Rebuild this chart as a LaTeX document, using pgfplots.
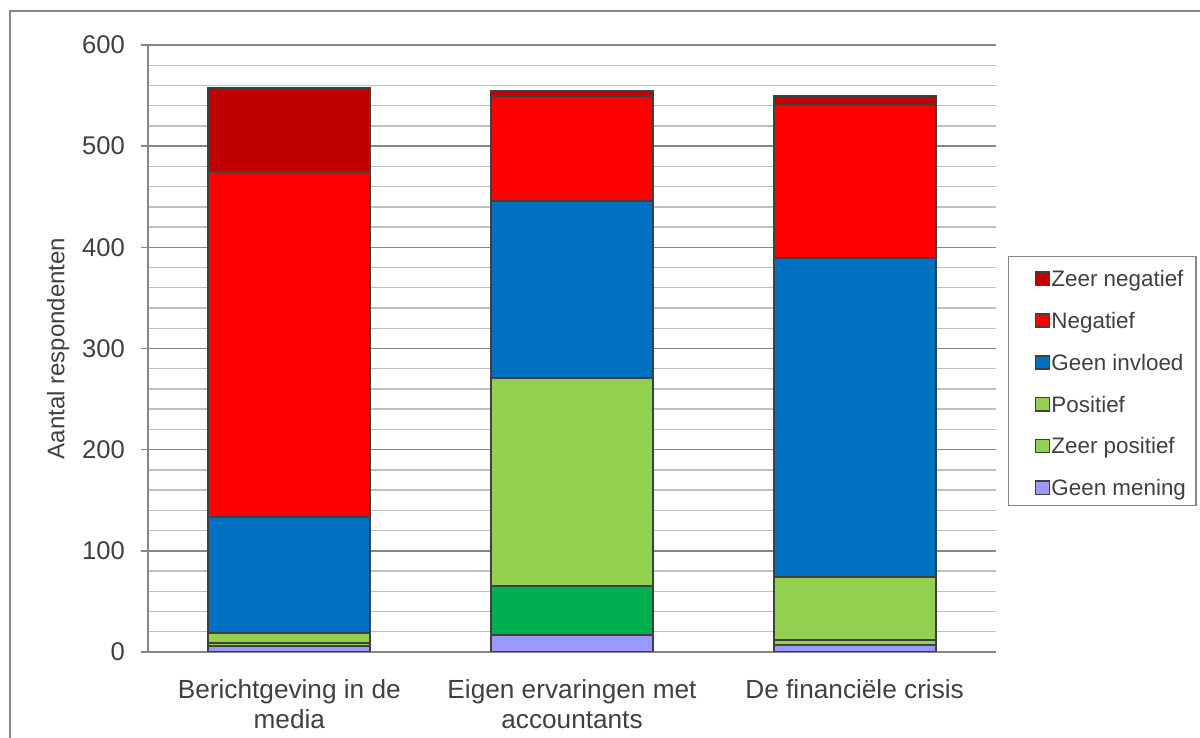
\documentclass[border=0pt]{standalone}
\usepackage{fontspec}
\setmainfont{Liberation Sans}
\usepackage{pgfplots}
\usepackage{pgfplotstable}
\pgfplotsset{compat=1.18}
\definecolor{zneg}{HTML}{C00000}
\definecolor{neg}{HTML}{FF0000}
\definecolor{ginv}{HTML}{0070C0}
\definecolor{pos}{HTML}{92D050}
\definecolor{zposd}{HTML}{00B050}
\definecolor{gmen}{HTML}{9999FF}
\definecolor{bord}{HTML}{404040}
\definecolor{txt}{HTML}{404040}
\definecolor{majgrid}{HTML}{868686}
\definecolor{mingrid}{HTML}{BFBFBF}
\definecolor{frame}{HTML}{868686}

\pgfplotstableread{
x gm zpl zpd pos gi neg zneg
0 6 3 0 10 114 341 83
1 17 0 48 206 175 104 5
2 7 5 0 62 315 152 9
}\datatable

\begin{document}
\begin{tikzpicture}[x=1pt,y=1pt]
\useasboundingbox (0,0) rectangle (600,369);
\clip (0,0) rectangle (600,369);
\fill[white] (0,0) rectangle (600,369);
\draw[color=frame, line width=0.6pt] (5,-10) rectangle (610,363.5);
\begin{axis}[
  at={(74pt,43pt)}, anchor=south west,
  scale only axis, width=424pt, height=303.5pt,
  xmin=-0.5, xmax=2.5, ymin=0, ymax=600,
  ybar stacked, bar width=0.574,
  xtick={0,1,2},
  xticklabels={{Berichtgeving in de\\media},{Eigen ervaringen met\\accountants},{De financiële crisis}},
  xtick style={draw=none},
  ytick={0,100,...,600},
  minor y tick num=4,
  ymajorgrids, yminorgrids,
  major grid style={color=majgrid, line width=0.8pt},
  minor grid style={color=mingrid, line width=0.7pt},
  axis x line*=bottom, axis y line*=left,
  axis line style={color=majgrid, line width=0.8pt},
  tick align=outside, major tick length=3.5pt, minor tick length=0pt,
  ytick style={color=majgrid, line width=0.8pt},
  /pgf/number format/assume math mode=true,
  yticklabel style={font=\fontsize{12.8}{15}\selectfont, text=txt, xshift=-4.5pt},
  xticklabel style={font=\fontsize{13.1}{15}\selectfont, text=txt, align=center, yshift=-6.5pt},
  ylabel={Aantal respondenten},
  every axis y label/.style={at={(axis description cs:-0.106,0.5)}, rotate=90, anchor=center, font=\fontsize{12}{14}\selectfont, text=txt},
  legend image code/.code={\path (0pt,0pt) (15.5pt,0pt);\draw[#1, line width=0.8pt, draw=bord] (8.5pt,-4.3pt) rectangle (15.5pt,2.3pt);},
  reverse legend,
  legend cell align=left,
  legend style={at={(axis description cs:1.014,0.446)}, anchor=west,
    draw=frame, line width=0.6pt,
    font=\fontsize{11.2}{13}\selectfont, text=txt,
    inner xsep=4.5pt, inner ysep=2.5pt, row sep=5.9pt,
    nodes={text height=10.5pt, text depth=0.5pt, inner sep=2pt, inner xsep=0.5pt}},
  every axis plot/.append style={draw=bord, line width=1pt},
]
\addplot[fill=gmen] table[x=x,y=gm]{\datatable};
\addlegendentry{Geen mening}
\addplot[fill=pos] table[x=x,y=zpl]{\datatable};
\addlegendentry{Zeer positief}
\addplot[fill=zposd, forget plot] table[x=x,y=zpd]{\datatable};
\addplot[fill=pos] table[x=x,y=pos]{\datatable};
\addlegendentry{Positief}
\addplot[fill=ginv] table[x=x,y=gi]{\datatable};
\addlegendentry{Geen invloed}
\addplot[fill=neg] table[x=x,y=neg]{\datatable};
\addlegendentry{Negatief}
\addplot[fill=zneg] table[x=x,y=zneg]{\datatable};
\addlegendentry{Zeer negatief}
\end{axis}
\end{tikzpicture}
\end{document}
